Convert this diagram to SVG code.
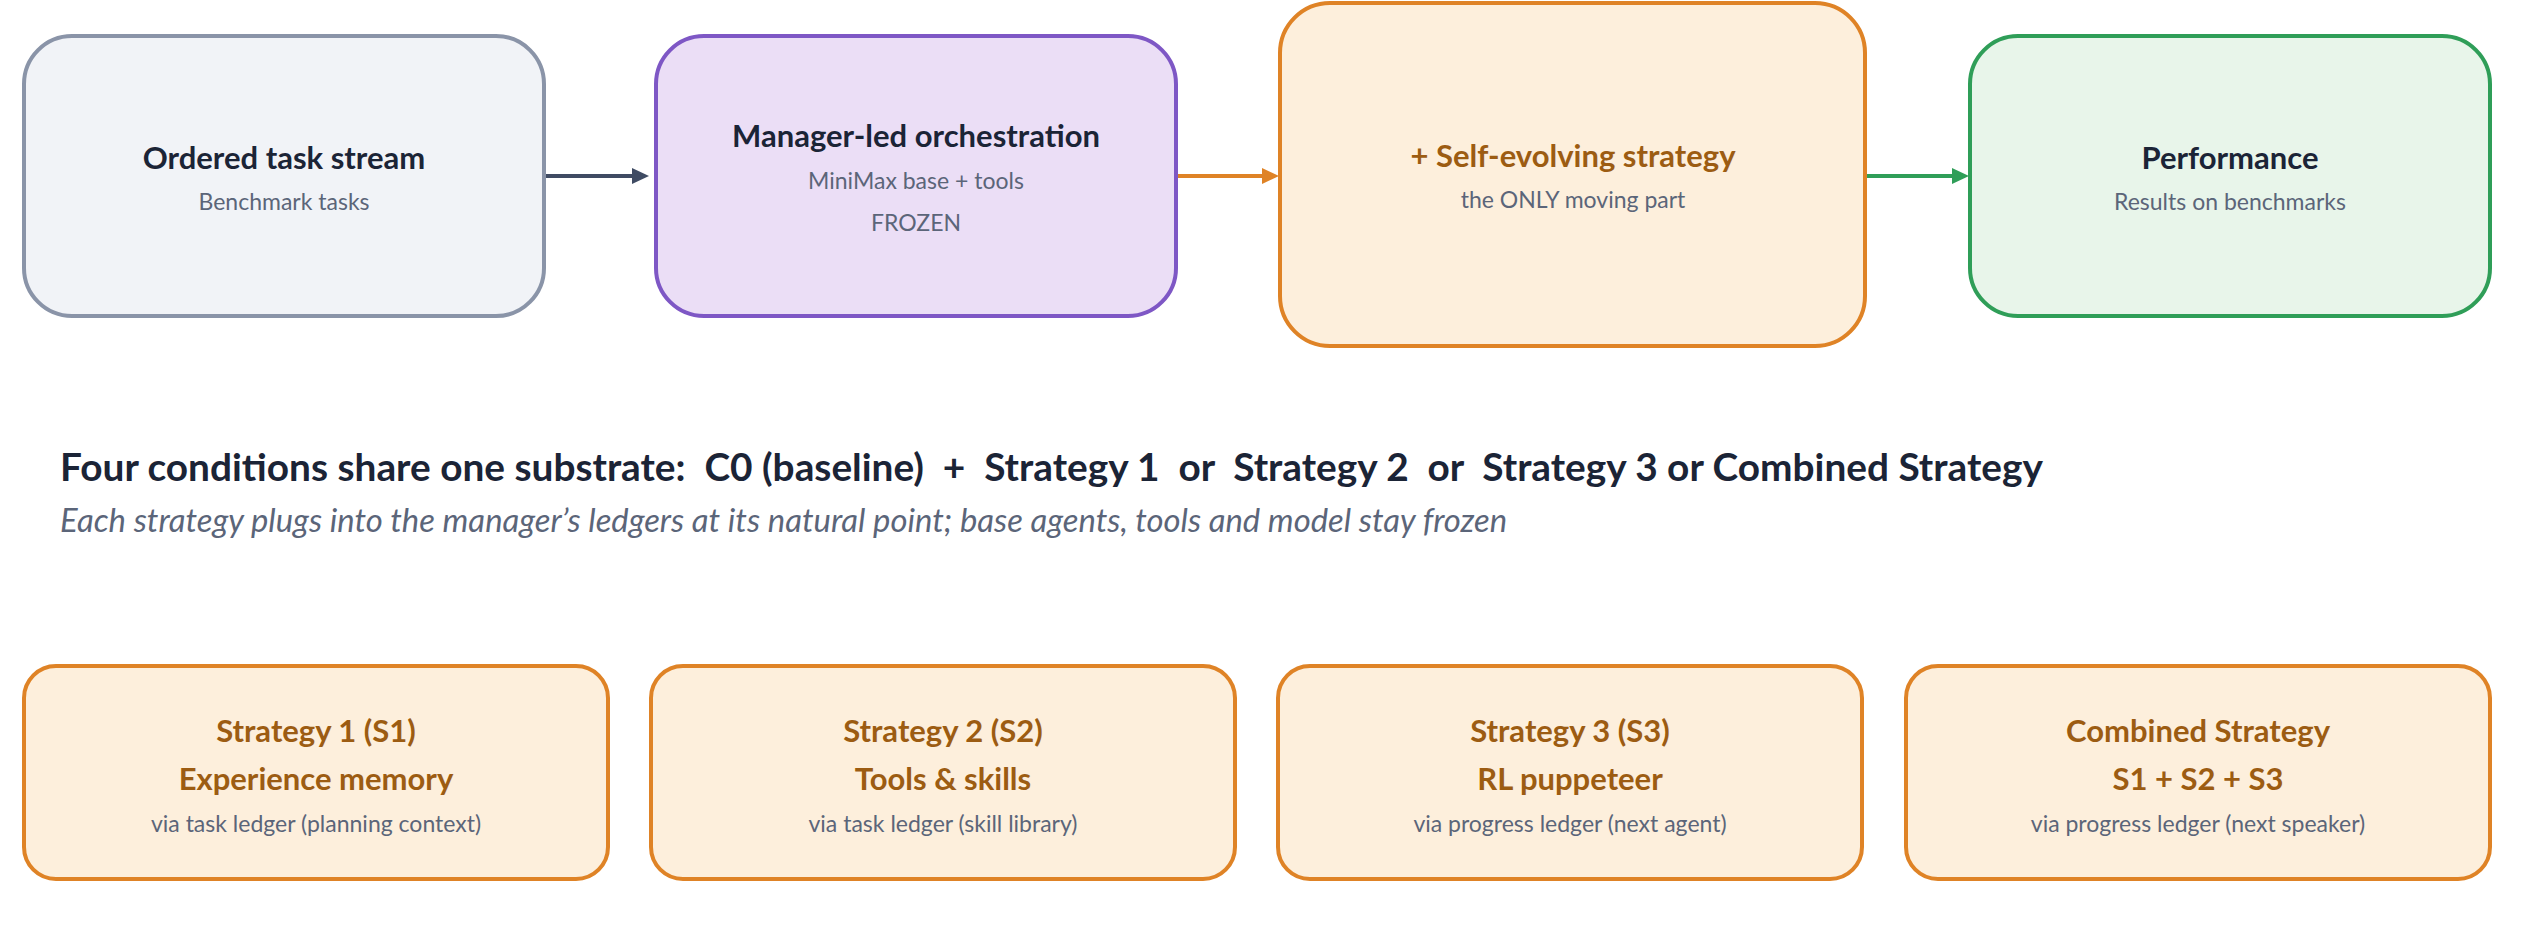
<svg xmlns="http://www.w3.org/2000/svg" width="2530" height="940" viewBox="0 0 2530 940">
<defs>
<style>
.t{font-family:Lato,"Liberation Sans",sans-serif;text-anchor:middle}
.h{font-weight:700;font-size:31px;fill:#1b2436}
.ho{font-weight:700;font-size:31px;fill:#9c5c12}
.s{font-size:23px;fill:#5b6579}
.box{stroke-width:4}
.gray{fill:#f1f3f7;stroke:#8a94a8}
.purple{fill:#ebdef6;stroke:#7e57c5}
.orange{fill:#fdefdc;stroke:#df8326}
.green{fill:#e8f5ea;stroke:#2f9e58}
</style>
<marker id="ah-dark" markerUnits="userSpaceOnUse" markerWidth="17" markerHeight="16" refX="2" refY="8" orient="auto"><path d="M0,0 L17,8 L0,16 z" fill="#3f4b63"/></marker>
<marker id="ah-orange" markerUnits="userSpaceOnUse" markerWidth="17" markerHeight="16" refX="2" refY="8" orient="auto"><path d="M0,0 L17,8 L0,16 z" fill="#df8326"/></marker>
<marker id="ah-green" markerUnits="userSpaceOnUse" markerWidth="17" markerHeight="16" refX="2" refY="8" orient="auto"><path d="M0,0 L17,8 L0,16 z" fill="#2f9e58"/></marker>
</defs>
<rect width="2530" height="940" fill="#ffffff"/>

<g id="connectors" stroke-width="4" fill="none">
<line x1="546" y1="176" x2="634" y2="176" stroke="#3f4b63" marker-end="url(#ah-dark)"/>
<line x1="1178" y1="176" x2="1264" y2="176" stroke="#df8326" marker-end="url(#ah-orange)"/>
<line x1="1867" y1="176" x2="1954" y2="176" stroke="#2f9e58" marker-end="url(#ah-green)"/>
</g>

<g id="node-task-stream">
<rect class="box gray" x="24" y="36" width="520" height="280" rx="48"/>
<text class="t h" x="284" y="169">Ordered task stream</text>
<text class="t s" x="284" y="210">Benchmark tasks</text>
</g>

<g id="node-manager">
<rect class="box purple" x="656" y="36" width="520" height="280" rx="48"/>
<text class="t h" x="916" y="147">Manager-led orchestration</text>
<text class="t s" x="916" y="189">MiniMax base + tools</text>
<text class="t s" x="916" y="231">FROZEN</text>
</g>

<g id="node-strategy">
<rect class="box orange" x="1280" y="3" width="585" height="343" rx="50"/>
<text class="t ho" x="1573" y="167">+ Self-evolving strategy</text>
<text class="t s" x="1573" y="208">the ONLY moving part</text>
</g>

<g id="node-performance">
<rect class="box green" x="1970" y="36" width="520" height="280" rx="48"/>
<text class="t h" x="2230" y="169">Performance</text>
<text class="t s" x="2230" y="210">Results on benchmarks</text>
</g>

<g id="heading">
<text x="60" y="481" font-family="Lato,'Liberation Sans',sans-serif" font-weight="700" font-size="38.8px" fill="#1b2436" xml:space="preserve">Four conditions share one substrate:  C0 (baseline)  +  Strategy 1  or  Strategy 2  or  Strategy 3 or Combined Strategy</text>
<text x="60" y="532" font-family="Lato,'Liberation Sans',sans-serif" font-style="italic" font-size="32.8px" fill="#5b6579">Each strategy plugs into the manager’s ledgers at its natural point; base agents, tools and model stay frozen</text>
</g>

<g id="node-s1">
<rect class="box orange" x="24" y="666" width="584" height="213" rx="32"/>
<text class="t ho" x="316" y="742">Strategy 1 (S1)</text>
<text class="t ho" x="316" y="790">Experience memory</text>
<text class="t s" x="316" y="832">via task ledger (planning context)</text>
</g>

<g id="node-s2">
<rect class="box orange" x="651" y="666" width="584" height="213" rx="32"/>
<text class="t ho" x="943" y="742">Strategy 2 (S2)</text>
<text class="t ho" x="943" y="790">Tools &amp; skills</text>
<text class="t s" x="943" y="832">via task ledger (skill library)</text>
</g>

<g id="node-s3">
<rect class="box orange" x="1278" y="666" width="584" height="213" rx="32"/>
<text class="t ho" x="1570" y="742">Strategy 3 (S3)</text>
<text class="t ho" x="1570" y="790">RL puppeteer</text>
<text class="t s" x="1570" y="832">via progress ledger (next agent)</text>
</g>

<g id="node-combined">
<rect class="box orange" x="1906" y="666" width="584" height="213" rx="32"/>
<text class="t ho" x="2198" y="742">Combined Strategy</text>
<text class="t ho" x="2198" y="790">S1 + S2 + S3</text>
<text class="t s" x="2198" y="832">via progress ledger (next speaker)</text>
</g>
</svg>
